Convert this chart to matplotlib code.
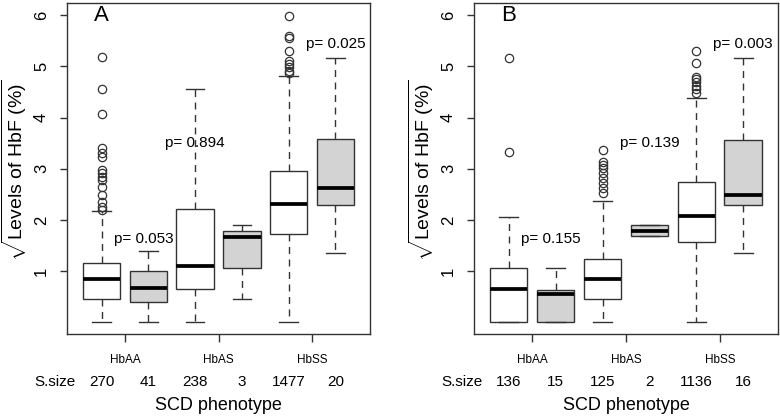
import numpy as np
import matplotlib.pyplot as plt

plt.rcParams['font.family'] = ['Liberation Sans', 'DejaVu Sans']
plt.rcParams['mathtext.fontset'] = 'custom'
plt.rcParams['mathtext.rm'] = 'Liberation Sans'
plt.rcParams['mathtext.it'] = 'Liberation Sans:italic'

# sqrt(HbF %) summaries, order: HbAA, HbAA(grey), HbAS, HbAS(grey), HbSS, HbSS(grey)
groups = ['HbAA', 'HbAS', 'HbSS']

A_whislo = [0.0, 0.0, 0.0, 0.45, 0.0, 1.35]
A_q1 = [0.45, 0.39, 0.65, 1.06, 1.72, 2.29]
A_med = [0.84, 0.67, 1.10, 1.67, 2.31, 2.63]
A_q3 = [1.15, 1.00, 2.21, 1.79, 2.96, 3.59]
A_whishi = [2.17, 1.39, 4.55, 1.90, 4.82, 5.17]
A_fliers = [
    [5.18, 4.55, 4.06, 3.41, 3.31, 3.22, 2.98, 2.92, 2.84, 2.78, 2.65, 2.49, 2.35, 2.25, 2.20],
    [], [], [],
    [5.98, 5.60, 5.55, 5.30, 5.10, 5.05, 4.98, 4.92, 4.87],
    [],
]
A_sizes = [270, 41, 238, 3, 1477, 20]
A_pvals = ['0.053', '0.894', '0.025']

B_whislo = [0.0, 0.0, 0.0, 1.69, 0.0, 1.35]
B_q1 = [0.0, 0.0, 0.45, 1.69, 1.57, 2.29]
B_med = [0.65, 0.55, 0.84, 1.79, 2.08, 2.49]
B_q3 = [1.06, 0.63, 1.23, 1.90, 2.74, 3.57]
B_whishi = [2.06, 1.06, 2.36, 1.90, 4.39, 5.17]
B_fliers = [
    [5.17, 3.33],
    [],
    [3.37, 3.14, 3.08, 3.02, 2.92, 2.82, 2.73, 2.63, 2.53],
    [],
    [5.31, 5.07, 4.80, 4.75, 4.70, 4.62, 4.55, 4.48],
    [],
]
B_sizes = [136, 15, 125, 2, 1136, 16]
B_pvals = ['0.155', '0.139', '0.003']

EDGE = '#333333'


def draw_panel(ax, whislo, q1, med, q3, whishi, fliers, sizes, pvals, letter, p_xy):
    stats = []
    for i in range(len(med)):
        stats.append(dict(whislo=whislo[i], q1=q1[i], med=med[i], q3=q3[i],
                          whishi=whishi[i], fliers=fliers[i]))
    pos = np.arange(1, len(med) + 1)
    bp = ax.bxp(stats, positions=pos, widths=0.8, capwidths=0.4, patch_artist=True,
                boxprops=dict(edgecolor=EDGE, linewidth=1.0),
                medianprops=dict(color='black', linewidth=2.7, solid_capstyle='butt'),
                whiskerprops=dict(color=EDGE, linewidth=1.0, linestyle=(0, (5, 4))),
                capprops=dict(color=EDGE, linewidth=1.0),
                flierprops=dict(marker='o', markerfacecolor='none', markeredgecolor=EDGE,
                                markersize=6, markeredgewidth=0.9))
    for i, patch in enumerate(bp['boxes']):
        patch.set_facecolor('white' if i % 2 == 0 else '#d3d3d3')

    ax.set_xlim(0.26, 6.74)
    ax.set_ylim(-0.23, 6.24)
    ax.set_yticks([1, 2, 3, 4, 5, 6])
    ax.set_yticklabels(['1', '2', '3', '4', '5', '6'], rotation=90, va='center', fontsize=12)
    ax.set_xticks([1.5, 3.5, 5.5])
    ax.set_xticklabels([])
    ax.tick_params(axis='y', length=5, width=1.0, pad=8, color=EDGE)
    ax.tick_params(axis='x', length=6, width=1.0, color=EDGE)
    for sp in ax.spines.values():
        sp.set_color(EDGE)
        sp.set_linewidth(1.0)

    trans = ax.get_xaxis_transform()
    for g, x in zip(groups, [1.5, 3.5, 5.5]):
        ax.text(x, -0.08, g, transform=trans, ha='center', va='center', fontsize=8.5)
    ax.text(0.0, -0.145, 'S.size', transform=trans, ha='center', va='center', fontsize=11)
    for x, n in zip(pos, sizes):
        ax.text(x, -0.145, str(n), transform=trans, ha='center', va='center', fontsize=11)
    ax.text(3.5, -0.215, 'SCD phenotype', transform=trans, ha='center', va='center', fontsize=13)

    for (x, y), p in zip(p_xy, pvals):
        ax.text(x, y, 'p= ' + p, ha='center', va='center', fontsize=11)
    ax.text(1.0, 6.0, letter, ha='center', va='center', fontsize=16)

    ax.set_ylabel(r'$\sqrt{\mathrm{Levels\ of\ HbF\ (\%)}}$', fontsize=14)
    ax.yaxis.set_label_coords(-0.125, 0.495)


fig = plt.figure(figsize=(7.8, 4.18), dpi=100)
axA = fig.add_axes([0.0859, 0.2010, 0.3885, 0.7919])
axB = fig.add_axes([0.6077, 0.2010, 0.3897, 0.7919])

draw_panel(axA, A_whislo, A_q1, A_med, A_q3, A_whishi, A_fliers, A_sizes, A_pvals, 'A',
           [(1.9, 1.63), (3.0, 3.51), (6.0, 5.43)])
draw_panel(axB, B_whislo, B_q1, B_med, B_q3, B_whishi, B_fliers, B_sizes, B_pvals, 'B',
           [(1.9, 1.63), (4.0, 3.51), (6.0, 5.43)])

fig.savefig('out.png', dpi=100)
